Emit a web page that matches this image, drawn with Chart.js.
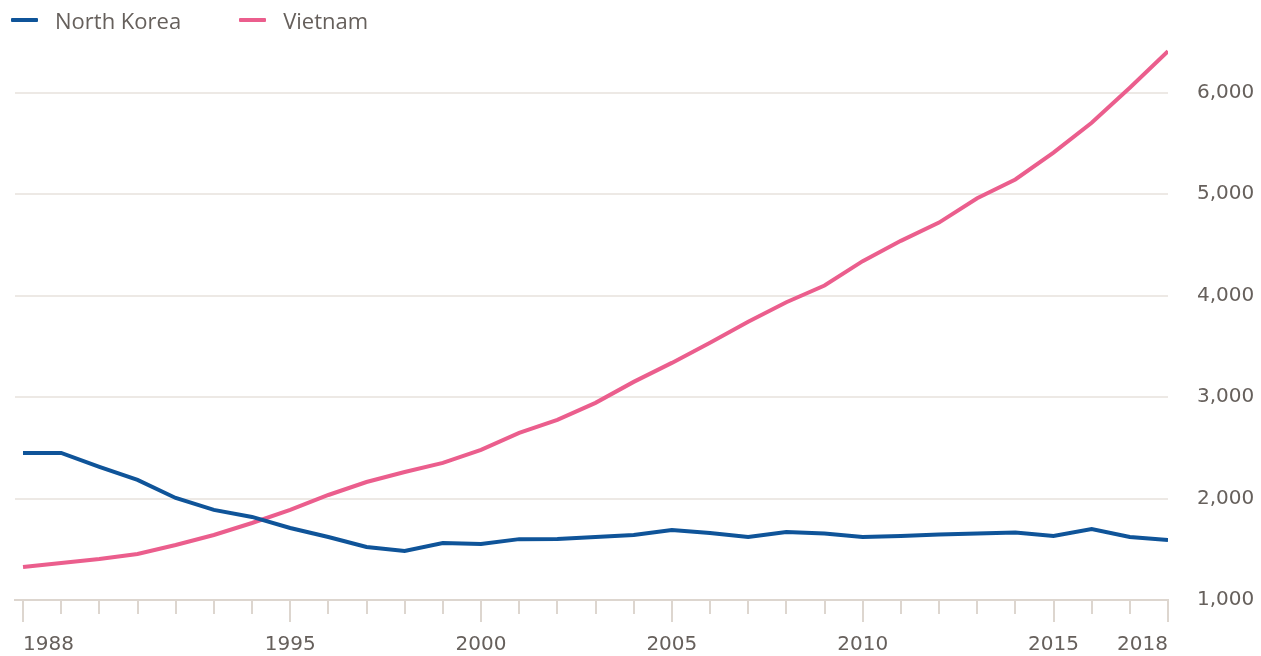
<!DOCTYPE html>
<html>
<head>
<meta charset="utf-8">
<script src="https://cdn.jsdelivr.net/npm/chart.js@4/dist/chart.umd.min.js"></script>
<style>
  html, body { margin: 0; padding: 0; background: #fff; }
  #wrap { position: relative; width: 1261px; height: 656px; }
  #legend { position: absolute; left: 11px; top: 5px; font: 22px "Open Sans", sans-serif; color: #66605c; display: flex; }
  #legend .item { display: flex; align-items: center; margin-right: 58px; }
  #legend .swatch { width: 27px; height: 4px; margin-right: 17px; border-radius: 1px; }
</style>
</head>
<body>
<div id="wrap">
  <div id="legend"></div>
  <canvas id="chart" width="1261" height="656"></canvas>
</div>
<script>
const years = [];
for (let y = 1988; y <= 2018; y++) years.push(y);

const labelledYears = [1988, 1995, 2000, 2005, 2010, 2015, 2018];
const yTicks = [1000, 2000, 3000, 4000, 5000, 6000];

const seriesNames = ['North Korea', 'Vietnam'];
const seriesColors = ['#0f5499', '#eb5e8d'];

const northKorea = [2450, 2450, 2312, 2183, 2006, 1888, 1819, 1710, 1621, 1523,
  1483, 1562, 1552, 1600, 1602, 1621, 1641, 1690, 1660, 1621,
  1670, 1655, 1621, 1630, 1645, 1655, 1665, 1630, 1700, 1621, 1592];

const vietnam = [1325, 1365, 1404, 1454, 1542, 1641, 1759, 1888, 2035, 2163,
  2262, 2351, 2479, 2647, 2775, 2943, 3150, 3337, 3535, 3742,
  3935, 4100, 4340, 4540, 4720, 4960, 5145, 5410, 5704, 6050, 6410];

const textColor = '#66605c';
const gridColor = '#ede9e5';
const axisColor = '#ddd6cf';
const tickFont = { family: 'DejaVu Sans', size: 20 };

// html legend
const legendEl = document.getElementById('legend');
seriesNames.forEach((name, i) => {
  const item = document.createElement('div');
  item.className = 'item';
  item.innerHTML = `<span class="swatch" style="background:${seriesColors[i]}"></span><span>${name}</span>`;
  legendEl.appendChild(item);
});

// year tick marks: long ones under labelled years
const yearTicksPlugin = {
  id: 'yearTicks',
  afterDraw(chart) {
    const {ctx, scales: {x}, chartArea} = chart;
    ctx.save();
    ctx.strokeStyle = axisColor;
    ctx.lineWidth = 2;
    years.forEach(yr => {
      const px = Math.round(x.getPixelForValue(yr));
      const len = labelledYears.includes(yr) ? 22 : 14;
      ctx.beginPath();
      ctx.moveTo(px, chartArea.bottom);
      ctx.lineTo(px, chartArea.bottom + len);
      ctx.stroke();
    });
    ctx.restore();
  }
};

const ctx = document.getElementById('chart').getContext('2d');
new Chart(ctx, {
  type: 'line',
  plugins: [yearTicksPlugin],
  data: {
    datasets: [
      {
        label: seriesNames[0],
        data: years.map((yr, i) => ({x: yr, y: northKorea[i]})),
        borderColor: seriesColors[0],
        borderWidth: 4,
        pointRadius: 0,
        tension: 0,
        fill: false
      },
      {
        label: seriesNames[1],
        data: years.map((yr, i) => ({x: yr, y: vietnam[i]})),
        borderColor: seriesColors[1],
        borderWidth: 4,
        pointRadius: 0,
        tension: 0,
        fill: false
      }
    ]
  },
  options: {
    responsive: false,
    animation: false,
    layout: { padding: { top: 42, left: 15, right: 0, bottom: 0 } },
    plugins: {
      legend: { display: false },
      tooltip: { enabled: false }
    },
    scales: {
      x: {
        type: 'linear',
        min: 1987.79,
        max: 2018,
        afterBuildTicks: scale => { scale.ticks = years.map(v => ({value: v})); },
        afterFit: scale => {
          scale.height = 56;
          scale.paddingLeft = 0;
          scale.paddingRight = 0;
        },
        grid: { display: false, drawTicks: false },
        border: { display: true, color: axisColor, width: 2 },
        ticks: {
          autoSkip: false,
          maxRotation: 0,
          align: 'inner',
          padding: 33,
          color: textColor,
          font: tickFont,
          callback: v => labelledYears.includes(v) ? String(v) : ''
        }
      },
      y: {
        position: 'right',
        min: 1000,
        max: 6500,
        afterBuildTicks: scale => { scale.ticks = yTicks.map(v => ({value: v})); },
        afterFit: scale => {
          scale.width = 93;
          scale.paddingTop = 0;
          scale.paddingBottom = 0;
        },
        grid: { color: gridColor, lineWidth: 2, drawTicks: false },
        border: { display: false },
        ticks: {
          padding: 29,
          color: textColor,
          font: tickFont,
          callback: v => v.toLocaleString('en-US')
        }
      }
    }
  }
});
</script>
</body>
</html>
